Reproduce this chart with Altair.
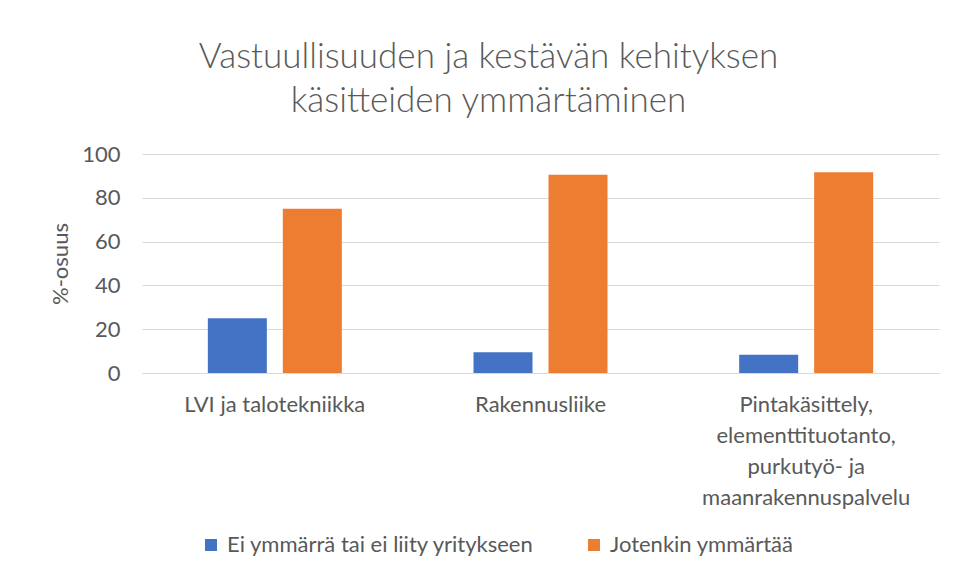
import altair as alt
import pandas as pd

# Data
categories = [
    "LVI ja talotekniikka",
    "Rakennusliike",
    "Pintakäsittely,|elementtituotanto,|purkutyö- ja|maanrakennuspalvelu",
]
series = ["Ei ymmärrä tai ei liity yritykseen", "Jotenkin ymmärtää"]
ei_ymmarra = [25.0, 9.5, 8.3]
jotenkin = [75.0, 90.5, 91.7]
y_ticks = [0, 20, 40, 60, 80, 100]
colors = ["#4472C4", "#ED7D31"]

rows = []
for c, a, b in zip(categories, ei_ymmarra, jotenkin):
    rows.append({"kategoria": c, "sarja": series[0], "arvo": a})
    rows.append({"kategoria": c, "sarja": series[1], "arvo": b})
df = pd.DataFrame(rows)

FONT = "Lato"
TXT = "#595959"

chart = (
    alt.Chart(df)
    .mark_bar()
    .encode(
        x=alt.X(
            "kategoria:N",
            sort=categories,
            scale=alt.Scale(paddingInner=0, paddingOuter=0),
            axis=alt.Axis(
                title=None,
                labelAngle=0,
                labelExpr="split(datum.label, '|')",
                labelFont=FONT,
                labelFontSize=22,
                labelColor=TXT,
                labelLineHeight=31,
                labelPadding=21,
                labelBaseline="top",
                labelLimit=0,
                ticks=False,
                domainColor="#D9D9D9",
                domainWidth=1,
            ),
        ),
        xOffset=alt.XOffset(
            "sarja:N",
            sort=series,
            scale=alt.Scale(paddingInner=0.213, paddingOuter=0.878),
        ),
        y=alt.Y(
            "arvo:Q",
            scale=alt.Scale(domain=[0, 100], nice=False),
            axis=alt.Axis(
                title="%-osuus",
                values=y_ticks,
                labelFont=FONT,
                labelFontSize=22,
                labelColor=TXT,
                labelPadding=22,
                titleFont=FONT,
                titleFontSize=22,
                titleFontWeight="normal",
                titleColor=TXT,
                titlePadding=9,
                ticks=False,
                domain=False,
                gridColor="#D9D9D9",
                gridWidth=1,
            ),
        ),
        color=alt.Color(
            "sarja:N",
            sort=series,
            scale=alt.Scale(domain=series, range=colors),
            legend=alt.Legend(
                title=None,
                orient="none",
                direction="horizontal",
                legendX=58,
                legendY=380,
                symbolType="square",
                symbolSize=144,
                symbolStrokeWidth=0,
                labelFont=FONT,
                labelFontSize=22,
                labelColor=TXT,
                labelOffset=5,
                labelLimit=0,
                columnPadding=48,
            ),
        ),
    )
    .properties(
        width=797,
        height=219,
        autosize=alt.AutoSizeParams(type="none"),
        padding={"left": 134, "top": 146, "right": 10, "bottom": 197},
        title=alt.TitleParams(
            text=["Vastuullisuuden ja kestävän kehityksen", "käsitteiden ymmärtäminen"],
            font=FONT,
            fontSize=35,
            fontWeight=300,
            color=TXT,
            anchor="middle",
            dx=-52,
            offset=24,
            lineHeight=44,
        ),
    )
    .configure_view(stroke=None)
)

chart.save("out.html", embed_options={"renderer": "svg", "actions": False})
